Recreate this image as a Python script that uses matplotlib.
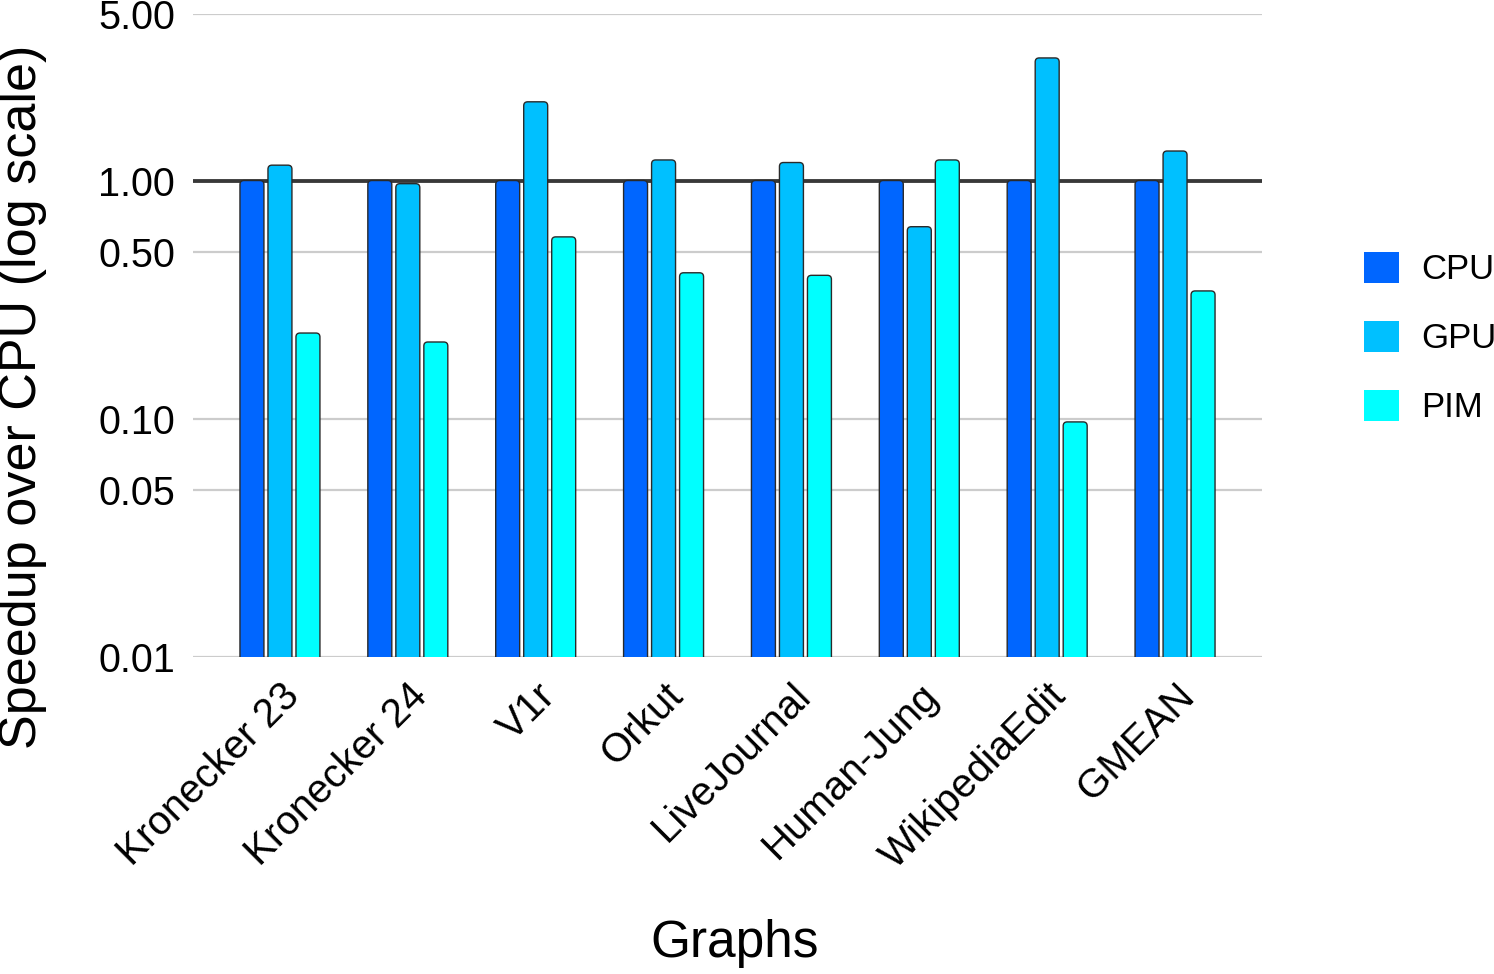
import matplotlib
matplotlib.use("Agg")
import matplotlib.pyplot as plt
from matplotlib.patches import FancyBboxPatch, Patch
from matplotlib.transforms import IdentityTransform
import numpy as np

plt.rcParams['font.family'] = ['Liberation Sans', 'DejaVu Sans']

graphs = ["Kronecker 23", "Kronecker 24", "V1r", "Orkut", "LiveJournal",
          "Human-Jung", "WikipediaEdit", "GMEAN"]
cpu = [1.0, 1.0, 1.0, 1.0, 1.0, 1.0, 1.0, 1.0]
gpu = [1.16, 0.97, 2.14, 1.22, 1.19, 0.64, 3.27, 1.33]
pim = [0.229, 0.21, 0.58, 0.41, 0.40, 1.22, 0.097, 0.344]
series_names = ["CPU", "GPU", "PIM"]
colors = ["#0066ff", "#00c0ff", "#00ffff"]
yticks = [0.01, 0.05, 0.10, 0.50, 1.00, 5.00]
ytick_labels = ["0.01", "0.05", "0.10", "0.50", "1.00", "5.00"]

W, H = 1494, 974
fig = plt.figure(figsize=(W / 100, H / 100), dpi=100)
ax = fig.add_axes([193 / W, 1 - 657 / H, (1262 - 193) / W, (657 - 14) / H])

x = np.arange(len(graphs))
bw = 0.1875
step = 0.219
base = 0.01

ax.set_yscale("log")
ax.set_ylim(0.01, 5.0)
ax.set_xlim(-0.68, len(graphs) - 1 + 0.68)

all_bars = []
for i, (vals, name, c) in enumerate(zip([cpu, gpu, pim], series_names, colors)):
    v = np.array(vals)
    bars = ax.bar(x + (i - 1) * step, v - base, bottom=base, width=bw, color=c,
                  edgecolor="#2a2a2a", linewidth=1.0, label=name, zorder=3)
    all_bars.append(bars)

# replace each rectangle by a rounded-top version in display space
fig.canvas.draw()
for bars in all_bars:
    for r in bars:
        (x0, y0), (x1, y1) = ax.transData.transform(
            [(r.get_x(), r.get_y()), (r.get_x() + r.get_width(), r.get_y() + r.get_height())])
        p = FancyBboxPatch((x0, y0 - 10), x1 - x0, (y1 - y0) + 10,
                           boxstyle="round,pad=0,rounding_size=4",
                           transform=IdentityTransform(),
                           facecolor=r.get_facecolor(), edgecolor="#2a2a2a",
                           linewidth=1.0, zorder=3)
        p.set_clip_box(ax.bbox)
        p.set_clip_on(True)
        fig.add_artist(p)
        r.set_visible(False)

ax.set_yticks(yticks)
ax.set_yticklabels(ytick_labels)
ax.yaxis.set_minor_locator(matplotlib.ticker.NullLocator())
ax.grid(axis="y", color="#cccccc", linewidth=1.6, zorder=0)
ax.set_axisbelow(True)
ax.axhline(1.0, color="#1e1e1e", linewidth=2.8, alpha=0.85, zorder=5)

ax.set_xticks(x)
ax.set_xticklabels(graphs, rotation=45, ha="right", va="top",
                   rotation_mode="anchor", fontsize=29)
ax.tick_params(axis="both", length=0)
ax.tick_params(axis="y", labelsize=28.5, pad=13)
ax.tick_params(axis="x", pad=14)
for s in ax.spines.values():
    s.set_visible(False)

fig.text(735 / W, 1 - 944 / H, "Graphs", fontsize=37, ha="center", va="center")
fig.text(23 / W, 1 - 397 / H, "Speedup over CPU (log scale)", fontsize=37.5,
         rotation=90, ha="center", va="center")

handles = [Patch(facecolor=c, edgecolor="none", label=n)
           for c, n in zip(colors, series_names)]
fig.legend(handles=handles, loc="center left",
           bbox_to_anchor=(1364 / W, 1 - 338 / H),
           frameon=False, fontsize=25, handlelength=1.0, handleheight=1.0,
           handletextpad=0.65, labelspacing=1.0, borderpad=0,
           borderaxespad=0)

fig.savefig("out.png", dpi=100)
